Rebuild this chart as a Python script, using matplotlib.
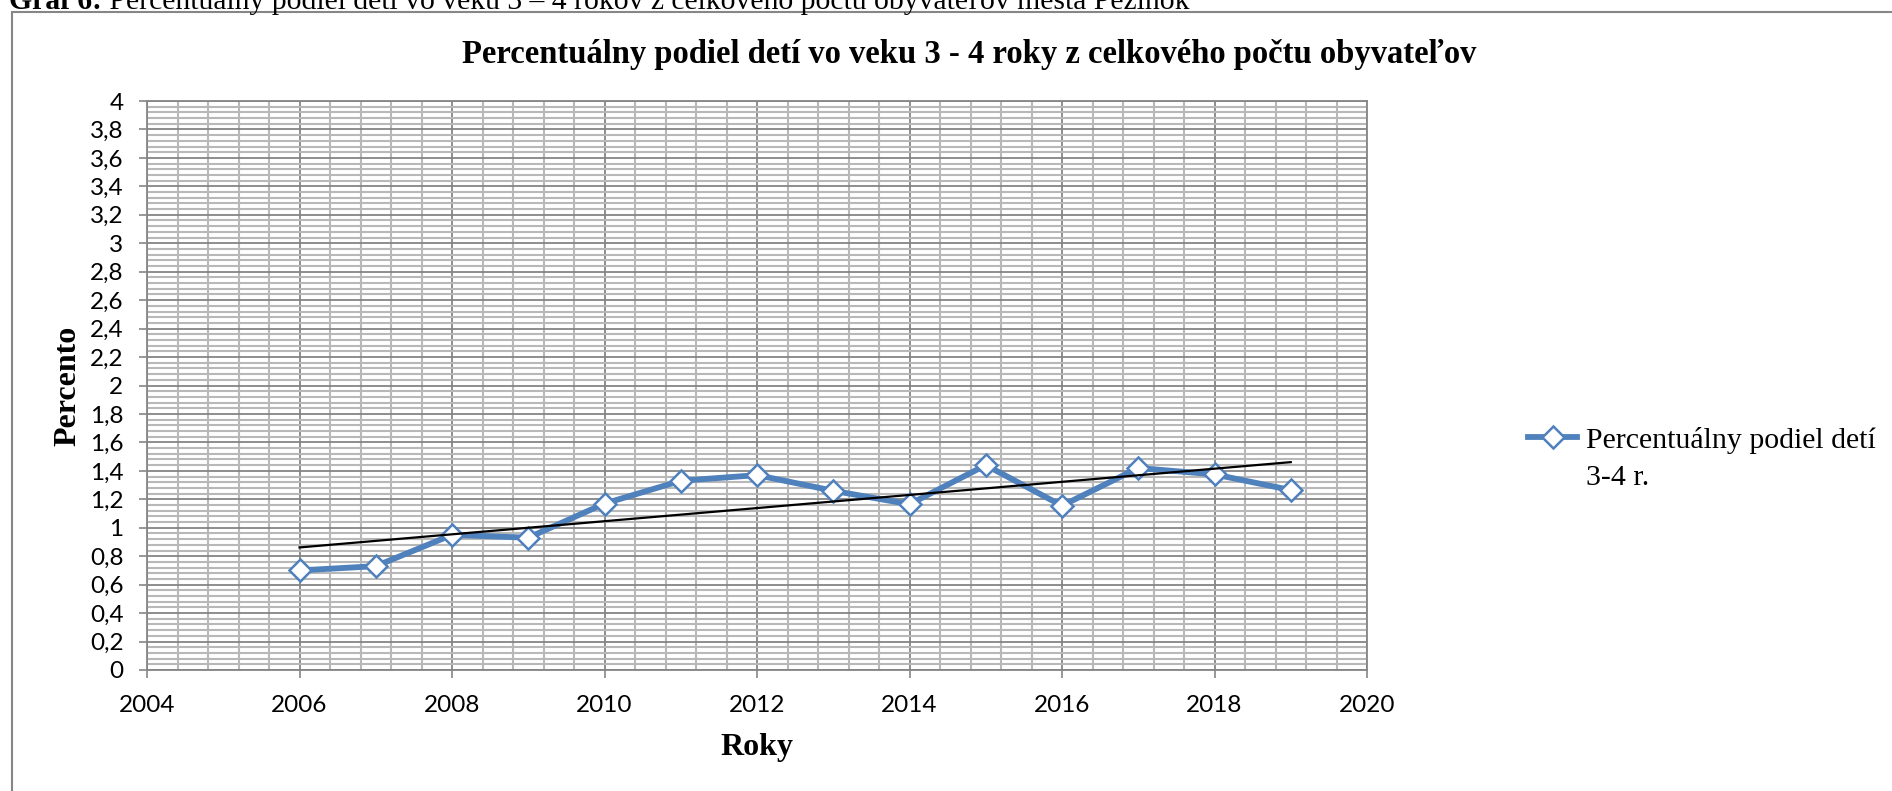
import numpy as np
import matplotlib
matplotlib.use("Agg")
import matplotlib.pyplot as plt
from matplotlib.ticker import MultipleLocator, FuncFormatter
from matplotlib.patches import Rectangle

# values
years = [2006, 2007, 2008, 2009, 2010, 2011, 2012,
         2013, 2014, 2015, 2016, 2017, 2018, 2019]
share = [0.70, 0.73, 0.95, 0.93, 1.17, 1.33, 1.37,
         1.26, 1.165, 1.44, 1.155, 1.42, 1.375, 1.265]

caption_bold = "Graf 6:"
caption_rest = " Percentuálny podiel detí vo veku 3 – 4 rokov z celkového počtu obyvateľov mesta Pezinok"
title = "Percentuálny podiel detí vo veku 3 - 4 roky z celkového počtu obyvateľov"
legend_label = "Percentuálny podiel detí\n3-4 r."

W, H = 1892, 791
serif = "Liberation Serif"
sans = "Lato"
blue = "#4F81BD"

fig = plt.figure(figsize=(W / 100, H / 100), dpi=100)

# outer chart frame (runs off the right and bottom edge like in the document)
fig.patches.append(Rectangle((12 / W, -0.2), 1.2, 1.2 - 12 / H,
                             transform=fig.transFigure, fill=False,
                             edgecolor="#868686", linewidth=1.5))

ax = fig.add_axes([147 / W, (H - 670) / H, 1220 / W, 569 / H])

x = np.array(years)
y = np.array(share)
ax.plot(x, y, color=blue, linewidth=4.2, marker="D", markersize=11,
        markerfacecolor="white", markeredgecolor=blue, markeredgewidth=1.8,
        zorder=3, label=legend_label)

# linear trend line
k, q = np.polyfit(x, y, 1)
ax.plot(x[[0, -1]], k * x[[0, -1]] + q, color="black", linewidth=1.6, zorder=4)

ax.set_xlim(2004, 2020)
ax.set_ylim(0, 4)
ax.xaxis.set_major_locator(MultipleLocator(2))
ax.xaxis.set_minor_locator(MultipleLocator(0.4))
ax.yaxis.set_major_locator(MultipleLocator(0.2))
ax.yaxis.set_minor_locator(MultipleLocator(0.04))
ax.yaxis.set_major_formatter(FuncFormatter(lambda v, p: f"{v:g}".replace(".", ",")))

ax.set_axisbelow(True)
ax.grid(which="minor", color="#b8b8b8", linewidth=1.5)
ax.grid(which="major", color="#858585", linewidth=1.3)

for s in ax.spines.values():
    s.set_color("#868686")
    s.set_linewidth(1.3)

ax.tick_params(which="major", length=6, width=1.2, color="#868686",
               labelsize=17.5, pad=11)
ax.tick_params(axis="x", pad=12)
ax.tick_params(which="minor", length=0)
for lab in ax.get_xticklabels() + ax.get_yticklabels():
    lab.set_fontfamily(sans)

ax.set_xlabel("Roky", fontfamily=serif, fontweight="bold", fontsize=23, va="center")
ax.set_ylabel("Percento", fontfamily=serif, fontweight="bold", fontsize=23, va="center")
ax.xaxis.set_label_coords(0.5, (670 - 747) / 569)
ax.yaxis.set_label_coords((68 - 147) / 1220, 0.5)

fig.text(969 / W, 1 - 54 / H, title, ha="center", va="center",
         fontfamily=serif, fontweight="bold", fontsize=23.5)

leg = fig.legend(loc="upper left", bbox_to_anchor=(1528 / W, 1 - 427 / H),
                 frameon=False, prop={"family": serif, "size": 21.5},
                 handlelength=1.65, handletextpad=0.3, borderpad=0, borderaxespad=0)
for t in leg.get_texts():
    t.set_linespacing(1.55)
# Excel puts the legend symbol next to the first line of a wrapped label
for col in leg._legend_handle_box.get_children():
    for row in col.get_children():
        row.align = "top"

# caption above the chart, cut off by the page edge
t1 = fig.text(9 / W, 1 - 9 / H, caption_bold, ha="left", va="baseline",
              fontfamily=serif, fontweight="bold", fontsize=21.3)
fig.canvas.draw()
bb = t1.get_window_extent()
fig.text(bb.x1 / W, 1 - 9 / H, caption_rest, ha="left", va="baseline",
         fontfamily=serif, fontsize=21.3)

fig.savefig("out.png", dpi=100)
